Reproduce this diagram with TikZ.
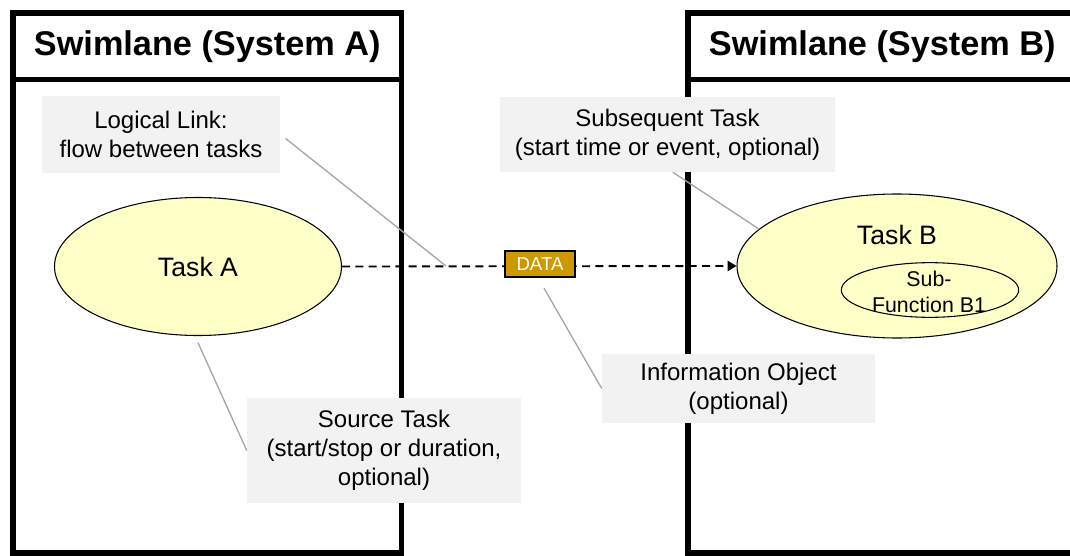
\documentclass[tikz,border=0pt]{standalone}
\usepackage{fontspec}
\setmainfont{Liberation Sans}
\usetikzlibrary{positioning, arrows.meta, shapes.geometric}

\definecolor{taskfill}{HTML}{FFFFC8}
\definecolor{datafill}{HTML}{CC9900}
\definecolor{notefill}{HTML}{F2F2F2}
\definecolor{leadergray}{HTML}{A6A6A6}

\begin{document}
\begin{tikzpicture}[
		x=0.75pt, y=-0.75pt,
		>=Triangle,
		% Swimlane header and body (fixed size so that the two stack exactly)
		lanehead/.style={
				rectangle, draw=black, line width=4pt, outer sep=0pt,
				minimum width=291.4pt, minimum height=49.9pt,
				font=\bfseries\fontsize{25.7}{30}\selectfont
			},
		lanebody/.style={
				rectangle, draw=black, line width=4pt, outer sep=0pt,
				minimum width=291.4pt, minimum height=355.1pt
			},
		% Tasks
		task/.style={
				ellipse, draw=black, thick, fill=taskfill,
				font=\fontsize{20}{24}\selectfont
			},
		% Grey explanation notes
		note/.style={
				rectangle, fill=notefill, align=center, inner sep=0pt,
				font=\fontsize{18}{21.6}\selectfont
			},
		% Information object
		dataobj/.style={
				rectangle, draw=black, thick, fill=datafill, text=white,
				minimum width=52.5pt, minimum height=19.5pt, inner sep=1pt,
				font=\fontsize{14}{16}\selectfont
			},
		% Connectors
		flow/.style={->, line width=1.4pt, dash pattern=on 6pt off 4pt},
		leader/.style={draw=leadergray, line width=1pt}
	]

	\useasboundingbox (0,0) rectangle (1070,556);
	\clip (0,0) rectangle (1070,556);

	% ==========================================
	% 1. SWIMLANES
	% ==========================================
	\node[lanehead] (headA) at (207.25,46.25) {Swimlane (System A)};
	\node[lanebody, below=0pt of headA] (laneA) {};

	\node[lanehead] (headB) at (882.25,46.25) {Swimlane (System B)};
	\node[lanebody, below=0pt of headB] (laneB) {};

	% ==========================================
	% 2. TASKS
	% ==========================================
	\node[task, minimum width=215.25pt, minimum height=103.5pt] (taskA) at (198,266.5) {Task A};

	\node[task, minimum width=240pt, minimum height=108pt] (taskB) at (897,266) {};
	\node[font=\fontsize{20}{24}\selectfont, anchor=base] (taskBtext) at (897,244) {Task B};
	\node[task, minimum width=133pt, minimum height=41pt] (subfn) at (930,290) {};
	\node[align=center, font=\fontsize{16}{19}\selectfont] (subfntext) at (929,292) {Sub-\\Function B1};

	% ==========================================
	% 3. DATA FLOW
	% ==========================================
	\draw[flow] (taskA.east) -- (taskB.west);
	\node[dataobj] (data) at (540,264) {DATA};
	\coordinate (linkpt) at (446,266);

	% ==========================================
	% 4. NOTES
	% ==========================================
	\node[note, minimum width=178.5pt, minimum height=57.75pt] (link) at (161,134.5)
	{Logical Link:\\flow between tasks};
	\node[note, minimum width=251.25pt, minimum height=56.25pt] (subseq) at (667.5,134.5)
	{Subsequent Task\\(start time or event, optional)};
	\node[note, minimum width=205.5pt, minimum height=78.75pt] (source) at (384,450.5)
	{Source Task\\(start/stop or duration,\\optional)};
	\node[note, minimum width=204.75pt, minimum height=51.75pt] (info) at (738.5,388.5)
	{Information Object\\(optional)};

	% Leader lines from the notes
	\draw[leader] ([xshift=4pt,yshift=-3pt]link.east) -- (linkpt);
	\draw[leader] ([xshift=4pt]subseq.south) -- (taskB.165);
	\draw[leader] ([yshift=-5pt]taskA.south) -- (source.west);
	\draw[leader] ([xshift=3pt,yshift=-8pt]data.south) -- (info.west);

\end{tikzpicture}
\end{document}
